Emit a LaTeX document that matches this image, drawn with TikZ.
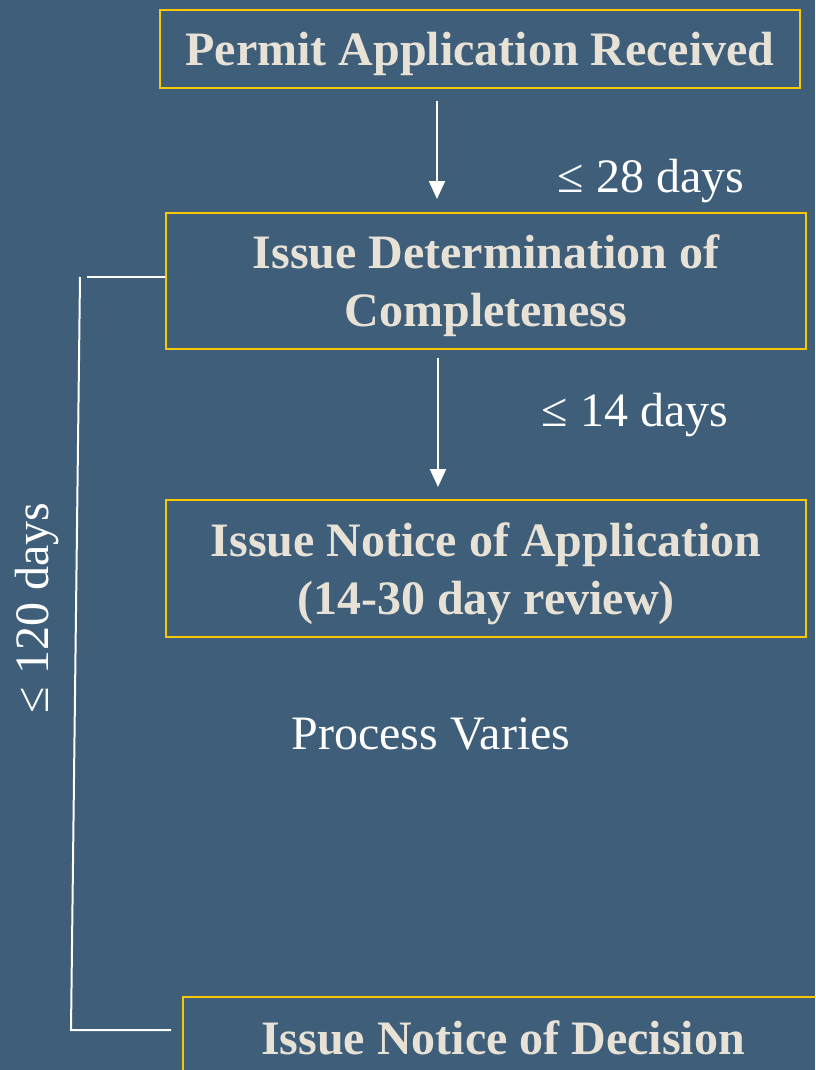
\documentclass[tikz,border=0pt]{standalone}
\usepackage{fontspec}
\setmainfont{Liberation Serif}
\usetikzlibrary{arrows.meta}
\definecolor{slide}{RGB}{62,94,122}
\definecolor{boxline}{RGB}{250,200,0}
\definecolor{boxtext}{RGB}{232,226,214}
\begin{document}
\begin{tikzpicture}[x=1pt,y=-1pt,
  stage/.style={draw=boxline,line width=2pt,minimum width=640pt,inner sep=0pt,text depth=0pt,
    align=center,text=boxtext,font=\fontsize{48}{58}\selectfont\bfseries},
  note/.style={text=white,inner sep=0pt,text depth=0pt,font=\fontsize{48}{58}\selectfont},
  flow/.style={draw=white,line width=2pt,-{Triangle[width=16pt,length=18pt]}},
  bracket/.style={draw=white,line width=2pt}]
\clip (0,0) rectangle (815,1070);
\fill[slide] (0,0) rectangle (815,1070);
\node[stage,minimum height=78pt] (received) at (480,49) {Permit Application Received};
\node[stage,minimum height=136pt] (complete) at (486,281) {Issue Determination of\\Completeness};
\node[stage,minimum height=137pt] (notice) at (486,568.5) {Issue Notice of Application\\(14-30 day review)};
\node[stage,minimum height=82pt] (decision) at (503,1038) {Issue Notice of Decision};
\draw[flow] ([xshift=-43pt,yshift=-12pt]received.south) -- ([xshift=-49pt,yshift=13pt]complete.north);
\draw[flow] ([xshift=-48pt,yshift=-8pt]complete.south) -- ([xshift=-48pt,yshift=12pt]notice.north);
\node[note] (days28) at (651,176) {≤ 28 days};
\node[note] (days14) at (635,410) {≤ 14 days};
\node[note] (varies) at (431,734) {Process Varies};
\coordinate (brtop) at (80,277);
\coordinate (brbot) at (71,1030);
\draw[bracket] ([xshift=7pt]brtop) -- (brtop -| complete.west);
\draw[bracket,shorten >=11pt] (brtop) -- (brbot) -- (brbot -| decision.west);
\node[note,rotate=90] (days120) at (32,608) {≤ 120 days};
\end{tikzpicture}
\end{document}
